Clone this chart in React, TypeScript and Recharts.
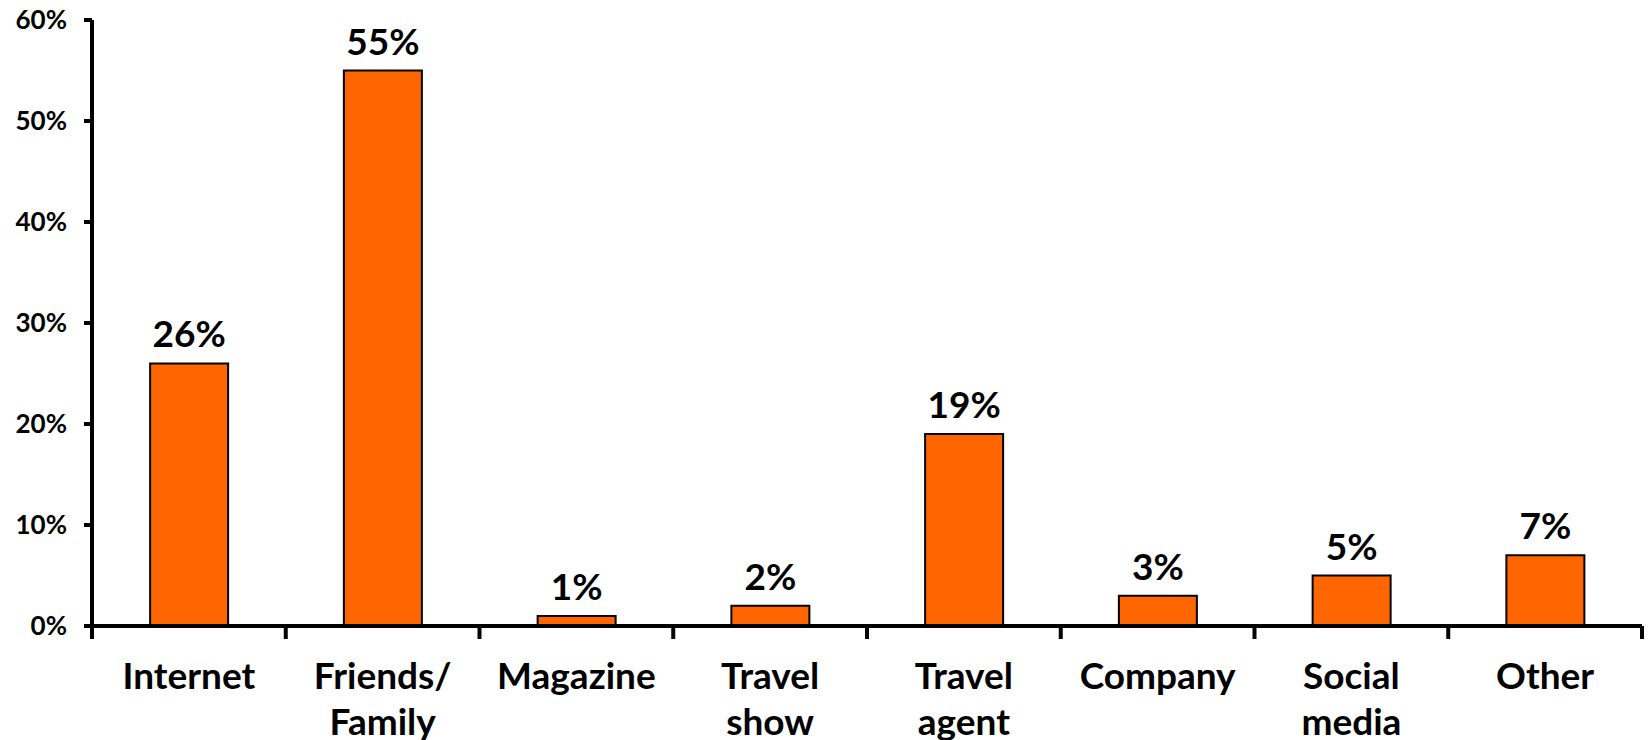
import React from "react";
import { BarChart, Bar, XAxis, YAxis, LabelList } from "recharts";

const categories = ["Internet", "Friends/ Family", "Magazine", "Travel show", "Travel agent", "Company", "Social media", "Other"];
const categoryLines = [["Internet"], ["Friends/", "Family"], ["Magazine"], ["Travel", "show"], ["Travel", "agent"], ["Company"], ["Social", "media"], ["Other"]];
const values = [26, 55, 1, 2, 19, 3, 5, 7];
const yTicks = [0, 10, 20, 30, 40, 50, 60];

const data = categories.map((c, i) => ({ name: c, lines: categoryLines[i], value: values[i] }));

const W = 1649;
const H = 740;
const LEFT = 92;
const RIGHT = 7;
const FONT = "Lato, 'DejaVu Sans', sans-serif";

const XTick = (props: any) => {
  const { x, y, index, payload } = props;
  const bw = (W - LEFT - RIGHT) / categories.length;
  const lines = categoryLines[index] || [payload.value];
  const axisY = y;
  return (
    <g>
      <line x1={x - bw / 2} x2={x - bw / 2} y1={axisY} y2={axisY + 13} stroke="#000" strokeWidth={4} />
      {index === categories.length - 1 && (
        <line x1={x + bw / 2} x2={x + bw / 2} y1={axisY} y2={axisY + 13} stroke="#000" strokeWidth={4} />
      )}
      {lines.map((l: string, i: number) => (
        <text key={i} x={x} y={axisY + 63 + i * 46} textAnchor="middle" fontFamily={FONT} fontWeight={700} fontSize={37} fill="#000">
          {l}
        </text>
      ))}
    </g>
  );
};

export default function App() {
  return (
    <div style={{ position: "absolute", left: 0, top: 0, width: W, height: H, background: "#fff" }}>
      <BarChart width={W} height={H} data={data} margin={{ top: 20, right: RIGHT, left: 0, bottom: 0 }} barCategoryGap="30%">
        <XAxis
          dataKey="name"
          height={114}
          axisLine={{ stroke: "#000", strokeWidth: 4 }}
          tickLine={false}
          tickSize={0}
          tickMargin={0}
          interval={0}
          tick={<XTick />}
        />
        <YAxis
          width={LEFT}
          domain={[0, 60]}
          ticks={yTicks}
          interval={0}
          tickFormatter={(v: number) => `${v}%`}
          axisLine={{ stroke: "#000", strokeWidth: 4 }}
          tickLine={{ stroke: "#000", strokeWidth: 4 }}
          tickSize={8}
          tickMargin={17}
          tick={{ fontFamily: FONT, fontWeight: 700, fontSize: 26, fill: "#000" }}
        />
        <Bar dataKey="value" fill="#FF6600" stroke="#000" strokeWidth={2} isAnimationActive={false}>
          <LabelList
            dataKey="value"
            position="top"
            offset={16}
            formatter={(v: any) => `${v}%`}
            style={{ fontFamily: FONT, fontWeight: 700, fontSize: 37, fill: "#000" }}
          />
        </Bar>
      </BarChart>
    </div>
  );
}
